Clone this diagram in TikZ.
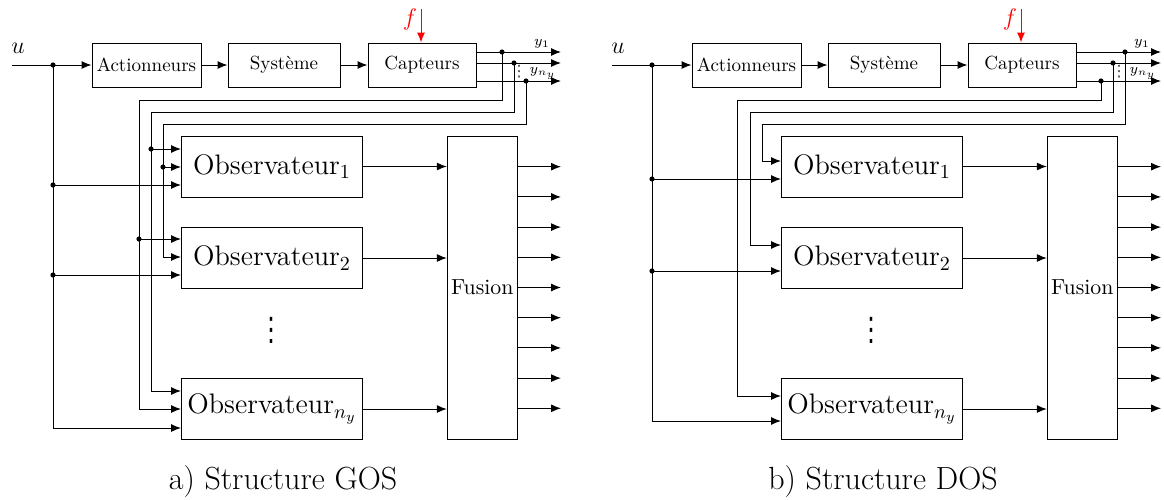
\documentclass[tikz,border=0pt]{standalone}
\usepackage{fontspec}
\usepackage{graphicx}
\newfontfamily\dejavu{DejaVu Sans}
\usetikzlibrary{arrows.meta}
\tikzset{
 blk/.style={draw, minimum height=22pt, inner sep=0pt, font=\fontsize{9.5}{11}\selectfont},
 obs/.style={draw, minimum width=90.5pt, minimum height=30.5pt, inner sep=0pt, font=\fontsize{14.1}{16}\selectfont},
 fus/.style={draw, minimum width=35pt, minimum height=151.5pt, inner sep=0pt, font=\fontsize{10.9}{12}\selectfont},
 arr/.style={-{Latex[length=5pt,width=4pt]}},
 lbl/.style={inner sep=0pt},
 ylbl/.style={inner sep=0pt, font=\fontsize{7.5}{9}\selectfont},
 capt/.style={inner sep=0pt, font=\fontsize{16}{19}\selectfont},
}
\begin{document}
\newcommand\commonpart[2]{%
 \node[blk, minimum width=54.5pt] (#1act) at (146.5,65) {Actionneurs};
 \node[blk, minimum width=56pt] (#1sys) at (284,65) {Système};
 \node[blk, minimum width=54pt] (#1cap) at (422,65) {Capteurs};
 \coordinate (#1u) at (12,65);
 \node[lbl, font=\fontsize{12}{14}\selectfont] (#1ul) at (18,48) {$u$};
 \draw[arr] (#1u) -- (#1act);
 \draw[arr] (#1act) -- (#1sys);
 \draw[arr] (#1sys) -- (#1cap);
 \coordinate (#1f) at (421,9);
 \draw[arr, red] (#1f) -- (#1f |- #1cap.north);
 \node[lbl, red, font=\fontsize{12}{14}\selectfont] (#1fl) at (410,19) {$f$};
 \coordinate (#1y1) at (561,52);
 \coordinate (#1y2) at (561,63);
 \coordinate (#1yn) at (561,81);
 \draw[arr] (#1cap.east |- #1y1) -- (#1y1);
 \draw[arr] (#1cap.east |- #1y2) -- (#1y2);
 \draw[arr] (#1cap.east |- #1yn) -- (#1yn);
 \node[ylbl] (#1y1l) at (542,44) {$y_1$};
 \node[ylbl] (#1ynl) at (543,73) {$y_{n_y}$};
 \node[lbl, font=\dejavu\fontsize{6}{7}\selectfont] (#1vd) at (519,72) {\scalebox{1}[1.3]{⋮}};
 \node[obs] (#1obs1) at (272,166.5) {Observateur$_1$};
 \node[obs] (#1obs2) at (272,258) {Observateur$_2$};
 \node[obs] (#1obsn) at (272,409) {Observateur$_{n_y}$};
 \node[lbl, font=\dejavu\fontsize{12}{14}\selectfont] (#1dots) at (271,330) {\scalebox{1}[1.35]{⋮}};
 \node[fus] (#1fus) at (482.3,287.7) {Fusion};
 \draw[arr] (#1obs1.east) -- (#1obs1.east -| #1fus.west);
 \draw[arr] (#1obs2.east) -- (#1obs2.east -| #1fus.west);
 \draw[arr] (#1obsn.east) -- (#1obsn.east -| #1fus.west);
 \foreach \i in {0,...,8} {
   \coordinate (#1o\i) at (561,{166.7+30.2*\i});
   \draw[arr] (#1fus.east |- #1o\i) -- (#1o\i);
 }
 \node[capt] (#1cap2) at (283,482) {#2};
}
\begin{tikzpicture}[x=0.5pt,y=-0.5pt,line width=0.5pt]
\useasboundingbox (0,0) rectangle (1164,499);
% ---------------- GOS ----------------
\commonpart{a-}{a) Structure GOS}
\coordinate (a-j0) at (53,65);
\coordinate (a-j1) at (502,52);
\coordinate (a-j2) at (514,63);
\coordinate (a-j3) at (526,81);
\coordinate (a-l1) at (139,100);
\coordinate (a-l2) at (151,112);
\coordinate (a-l3) at (163,124);
\coordinate (a-q0) at (53,428);
\coordinate (a-q2) at (151,391);
\coordinate (a-q3) at (163,257);
\coordinate (a-p1) at (139,239);
\coordinate (a-p2) at (151,149);
\coordinate (a-p3) at (163,167);
\coordinate (a-p01) at (53,185);
\coordinate (a-p02) at (53,275);
\draw[arr] (a-j1) |- (a-l1) |- (a-obsn.west);
\draw[arr] (a-p1) -- (a-p1 -| a-obs2.west);
\draw[arr] (a-j2) |- (a-l2) -- (a-q2) -- (a-q2 -| a-obsn.west);
\draw[arr] (a-p2) -- (a-p2 -| a-obs1.west);
\draw[arr] (a-j3) |- (a-l3) -- (a-q3) -- (a-q3 -| a-obs2.west);
\draw[arr] (a-p3) -- (a-p3 -| a-obs1.west);
\draw[arr] (a-j0) -- (a-q0) -- (a-q0 -| a-obsn.west);
\draw[arr] (a-p01) -- (a-p01 -| a-obs1.west);
\draw[arr] (a-p02) -- (a-p02 -| a-obs2.west);
\foreach \c in {a-j0,a-j1,a-j2,a-j3,a-p1,a-p2,a-p3,a-p01,a-p02} \fill (\c) circle (1.3pt);
% ---------------- DOS ----------------
\begin{scope}[xshift=300pt]
\commonpart{b-}{b) Structure DOS}
\coordinate (b-j0) at (52,65);
\coordinate (b-j1) at (525,52);
\coordinate (b-j2) at (513,63);
\coordinate (b-j3) at (501,81);
\coordinate (b-l1) at (162,124);
\coordinate (b-l2) at (150,112);
\coordinate (b-l3) at (137,100);
\coordinate (b-q0) at (52,421);
\coordinate (b-q1) at (162,161);
\coordinate (b-q2) at (150,245);
\coordinate (b-q3) at (137,396);
\coordinate (b-p01) at (52,179);
\coordinate (b-p02) at (52,271);
\draw[arr] (b-j1) |- (b-l1) -- (b-q1) -- (b-q1 -| b-obs1.west);
\draw[arr] (b-j2) |- (b-l2) -- (b-q2) -- (b-q2 -| b-obs2.west);
\draw[arr] (b-j3) |- (b-l3) -- (b-q3) -- (b-q3 -| b-obsn.west);
\draw[arr] (b-j0) -- (b-q0) -- (b-q0 -| b-obsn.west);
\draw[arr] (b-p01) -- (b-p01 -| b-obs1.west);
\draw[arr] (b-p02) -- (b-p02 -| b-obs2.west);
\foreach \c in {b-j0,b-j1,b-j2,b-j3,b-p01,b-p02} \fill (\c) circle (1.3pt);
\end{scope}
\end{tikzpicture}
\end{document}
